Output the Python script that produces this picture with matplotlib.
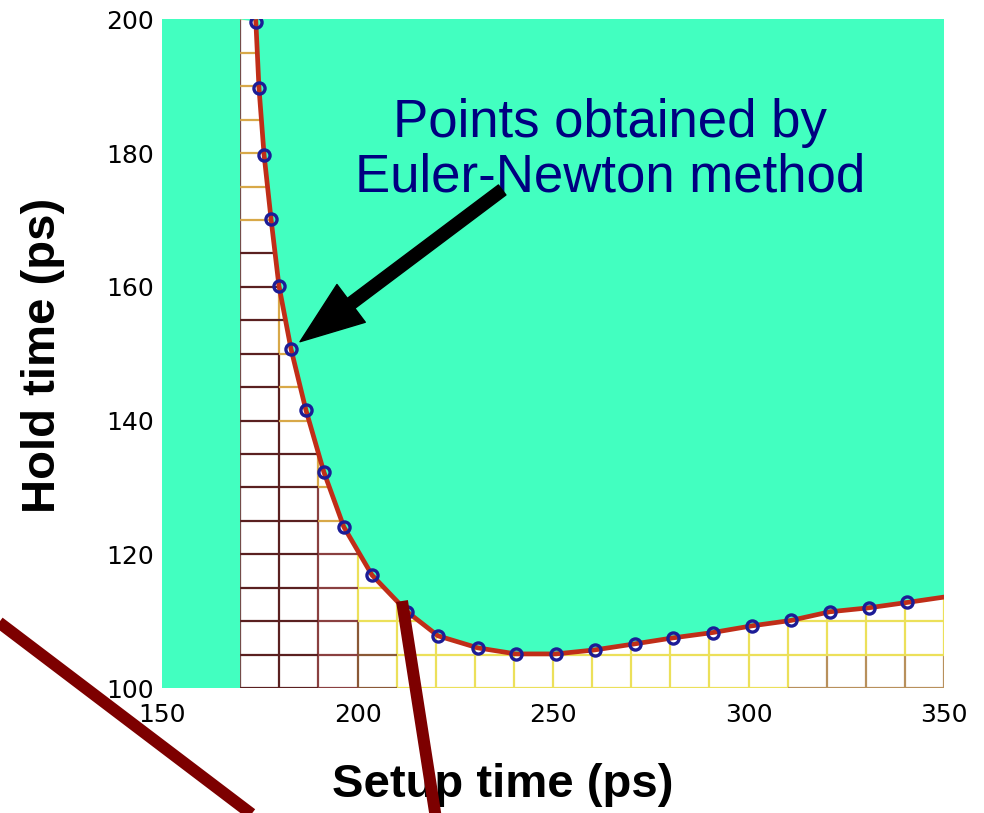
import numpy as np
import matplotlib
matplotlib.use("Agg")
import matplotlib.pyplot as plt
from matplotlib.collections import LineCollection
from matplotlib.patches import Polygon
from matplotlib.lines import Line2D

# Euler-Newton points (setup time, hold time) in ps
pts_setup = [174.0, 174.8, 176.1, 177.9, 179.9, 183.0, 186.8, 191.4, 196.5, 203.7,
             212.7, 220.6, 230.8, 240.5, 250.8, 260.7, 270.9, 280.7, 290.9, 300.9,
             310.8, 320.8, 330.8, 340.6]
pts_hold = [199.7, 189.8, 179.8, 170.1, 160.2, 150.7, 141.6, 132.3, 124.1, 116.9,
            111.4, 107.8, 106.0, 105.1, 105.1, 105.7, 106.6, 107.5, 108.3, 109.3,
            110.1, 111.4, 112.0, 112.8]
# contour continues to the right edge
end_setup = 350.0
end_hold = 113.6

x_ticks = [150, 200, 250, 300, 350]
y_ticks = [100, 120, 140, 160, 180, 200]

CYAN = "#42ffc0"
CURVE = "#c02e18"
MARKER = "#1c1c96"
NAVY = "#000080"
DARKRED = "#7d0000"

line_x = np.array(pts_setup + [end_setup])
line_y = np.array(pts_hold + [end_hold])

fig = plt.figure(figsize=(9.84, 8.13), dpi=100)
ax = fig.add_axes([162 / 984, 1 - 688 / 813, 782 / 984, 668.5 / 813])
ax.set_facecolor(CYAN)
ax.set_xlim(150, 350)
ax.set_ylim(100, 200)

# passing region (white) under the contour
poly = [(170, 100), (170, 200)] + list(zip(line_x, line_y)) + [(350, 100)]
region = Polygon(poly, closed=True, facecolor="white", edgecolor="none", zorder=1)
ax.add_patch(region)

# mesh inside the region
grid_x = np.arange(170, 351, 10)
grid_y = np.arange(100, 201, 5)
segs = []
for gx in grid_x:
    for gy in grid_y[:-1]:
        segs.append([(gx, gy), (gx, gy + 5)])
for gy in grid_y:
    for gx in grid_x[:-1]:
        segs.append([(gx, gy), (gx + 10, gy)])

up_x = line_x[:14][::-1]
up_y = line_y[:14][::-1]
colors = []
for (a, b) in segs:
    xm, ym = (a[0] + b[0]) / 2, (a[1] + b[1]) / 2
    d = abs(np.interp(ym, up_y, up_x, left=np.inf) - xm)
    if xm < 200 and d < 3:
        colors.append("#d8a848")
    elif xm < 190:
        colors.append("#5a2020")
    elif xm < 200:
        colors.append("#8a4040")
    elif xm < 210 and ym < 110:
        colors.append("#8a5836")
    elif xm >= 315 and ym < 105:
        colors.append("#b8905c")
    else:
        colors.append("#ece05a")
lc = LineCollection(segs, colors=colors, linewidths=1.6, zorder=2)
ax.add_collection(lc)
lc.set_clip_path(region)

ax.plot(line_x, line_y, color=CURVE, lw=3.4, zorder=3)
ax.plot(pts_setup, pts_hold, "o", ms=8, mfc="none", mec=MARKER, mew=2.4, zorder=4)

ax.text(264.6, 182.4, "Points obtained by", color=NAVY, fontsize=38,
        family="Liberation Sans", ha="center", va="baseline", zorder=5)
ax.text(264.6, 174.2, "Euler-Newton method", color=NAVY, fontsize=38,
        family="Liberation Sans", ha="center", va="baseline", zorder=5)
ax.annotate("", xy=(185.3, 151.8), xytext=(237.0, 174.5),
            arrowprops=dict(facecolor="black", edgecolor="black", width=9,
                            headwidth=34, headlength=46, shrink=0), zorder=6)

for s in ax.spines.values():
    s.set_visible(False)
ax.set_xticks(x_ticks)
ax.set_yticks(y_ticks)
ax.tick_params(axis="both", length=0, labelsize=18)
ax.tick_params(axis="x", pad=10.5)
ax.tick_params(axis="y", pad=6)

fig.text(503 / 984, 1 - 797 / 813, "Setup time (ps)", fontsize=34, fontweight="bold",
         family="Liberation Sans", ha="center", va="baseline")
fig.text(43 / 984, 1 - 355 / 813, "Hold time (ps)", fontsize=34, fontweight="bold",
         family="Liberation Sans", ha="center", va="center", rotation=90)

# thick dark red strokes over the slide
fig.add_artist(Line2D([-20 / 984, 270 / 984], [1 - 608 / 813, 1 - 828 / 813],
                      transform=fig.transFigure, color=DARKRED, lw=8.6,
                      solid_capstyle="butt", zorder=10))
fig.add_artist(Line2D([402 / 984, 437 / 984], [1 - 601 / 813, 1 - 825 / 813],
                      transform=fig.transFigure, color=DARKRED, lw=8.6,
                      solid_capstyle="butt", zorder=10))

fig.savefig("out.png", dpi=100)
